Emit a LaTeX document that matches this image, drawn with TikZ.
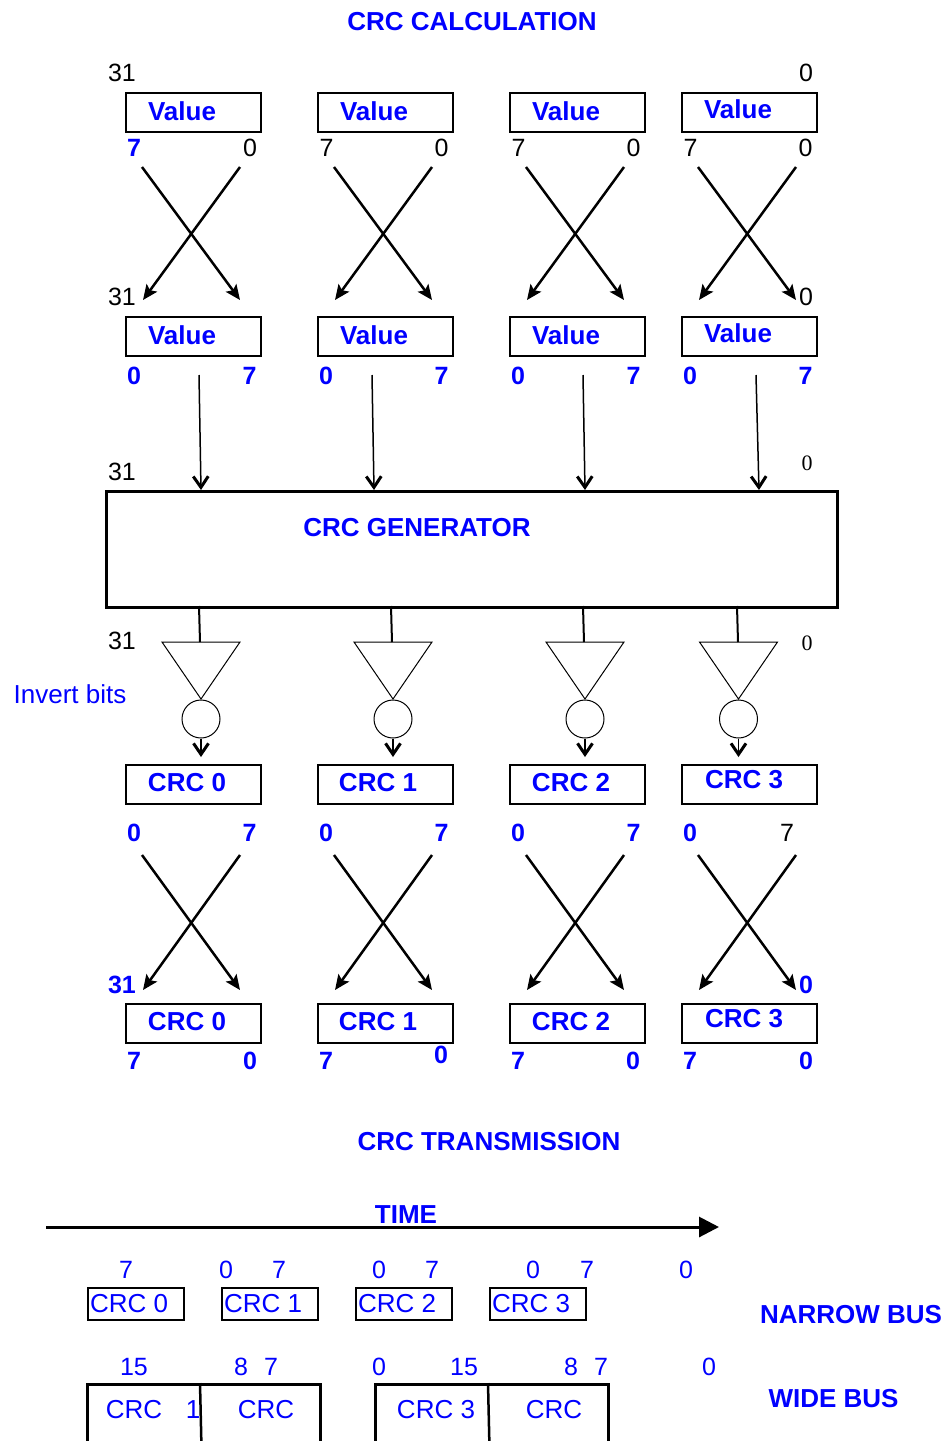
\documentclass[tikz,border=0pt]{standalone}
\usepackage{fontspec}
\setmainfont{Liberation Sans}
\newfontfamily\serifnum{Liberation Serif}
\usetikzlibrary{arrows.meta}
\begin{document}
\begin{tikzpicture}[x=1pt,y=-1pt,
  bx/.style={draw, line width=1.5pt, minimum width=135pt, minimum height=39pt, inner sep=0pt, anchor=north west},
  nbx/.style={draw, line width=1.5pt, minimum width=96pt, minimum height=32pt, inner sep=0pt, anchor=north west},
  wbx/.style={draw, line width=2.5pt, minimum width=233pt, minimum height=120pt, inner sep=0pt, anchor=north west},
  wb/.style={text=blue, font=\fontsize{26}{28}\selectfont\bfseries, inner sep=0pt},
  wr/.style={text=blue, font=\fontsize{26}{28}\selectfont, inner sep=0pt},
  nb/.style={text=blue, font=\fontsize{25}{28}\selectfont\bfseries, inner sep=0pt},
  nk/.style={text=black, font=\fontsize{25}{28}\selectfont, inner sep=0pt},
  nr/.style={text=blue, font=\fontsize{25}{28}\selectfont, inner sep=0pt},
  ns/.style={text=black, font=\fontsize{22}{24}\serifnum, inner sep=0pt},
  xarrow/.style={line width=2.5pt, -{Stealth[length=15pt,width=13pt,inset=3pt]}},
  varrow/.style={line width=1.5pt, -{Straight Barb[length=11pt,width=15pt,line width=3pt]}},
  inv/.style={line width=1pt},
  ring/.style={draw, circle, line width=1pt, minimum size=38pt, inner sep=0pt},
]
\useasboundingbox (0,0) rectangle (948,1441);
\clip (0,0) rectangle (948,1441);

% ---------- titles ----------
\node[wb] (t1) at (472,22) {CRC CALCULATION};
\node[wb] (t2) at (489,1142) {CRC TRANSMISSION};

% ---------- row 1 : Value boxes ----------
\foreach \i/\L/\ty in {1/125/111,2/317/111,3/509/111,4/681/109}{
  \node[bx] (va\i) at (\L,92) {};
  \node[wb] (vat\i) at (\L+57,\ty) {Value};
  \coordinate (xa\i) at (\L+17,167);
  \coordinate (xb\i) at (\L+115,167);
  \coordinate (xc\i) at (\L+18,300);
  \coordinate (xd\i) at (\L+115,300);
  \draw[xarrow] (xa\i) -- (xd\i);
  \draw[xarrow] (xb\i) -- (xc\i);
  % row 2 boxes
  \node[bx] (vb\i) at (\L,316) {};
  \node[wb] (vbt\i) at (\L+57,\ty+224) {Value};
  \node[nb] (lb0\i) at (\L+9,376) {0};
  \node[nb] (lb7\i) at (\L+124.5,376) {7};
}
\node[nk] (n31a) at (122,73) {31};
\node[nk] (n0a) at (806,73) {0};
\node[nb] (la71) at (134,148) {7};
\node[nk] (la01) at (250,148) {0};
\foreach \i/\L in {2/317,3/509,4/681}{
  \node[nk] (la7\i) at (\L+9.5,148) {7};
  \node[nk] (la0\i) at (\L+124.5,148) {0};
}
\node[nk] (n31b) at (122,297) {31};
\node[nk] (n0b) at (806,297) {0};

% ---------- generator ----------
\node[draw, line width=2.5pt, minimum width=731pt, minimum height=116pt, inner sep=0pt, anchor=north west] (gen) at (105,490) {};
\node[wb] (gent) at (417,528) {CRC GENERATOR};
\node[nk] (n31c) at (122,472) {31};
\node[ns] (n0c) at (807,463) {0};
\foreach \i/\xa/\xb in {1/199/201,2/372/374,3/583/585,4/756/759}{
  \coordinate (ia\i) at (\xa,375);
  \coordinate (ib\i) at (\xb,490);
  \draw[varrow] (ia\i) -- (ib\i);
}

% ---------- inverters ----------
\node[nk] (n31d) at (122,641) {31};
\node[ns] (n0d) at (807,643) {0};
\node[wr] (invt) at (70,694) {Invert bits};
\foreach \i/\xl/\t in {1/199/201,2/391/393,3/583/585,4/737/738.5}{
  \coordinate (ga\i) at (\xl,606);
  \coordinate (gb\i) at (\xl+1,642);
  \draw[line width=2pt] (ga\i) -- (gb\i);
  \coordinate (ta\i) at (\t-39,642);
  \coordinate (tb\i) at (\t+39,642);
  \coordinate (tc\i) at (\t,699);
  \draw[inv] (ta\i) -- (tb\i) -- (tc\i) -- cycle;
  \node[ring] (c\i) at (\t,719) {};
  \coordinate (cd\i) at (\t,757);
  \draw[varrow] (c\i.south) -- (cd\i);
}

% ---------- row 3 : CRC boxes ----------
\foreach \i/\L/\tx/\ty in {1/125/187/783,2/317/378/783,3/509/571/783,4/681/744/780}{
  \node[bx] (ca\i) at (\L,764) {};
  \pgfmathtruncatemacro{\k}{\i-1}
  \node[wb] (cat\i) at (\tx,\ty) {CRC \k};
  \node[nb] (lc0\i) at (\L+9,833) {0};
  \coordinate (ya\i) at (\L+17,855);
  \coordinate (yb\i) at (\L+115,855);
  \coordinate (yc\i) at (\L+18,990);
  \coordinate (yd\i) at (\L+115,990);
  \draw[xarrow] (ya\i) -- (yd\i);
  \draw[xarrow] (yb\i) -- (yc\i);
  % row 4
  \node[bx] (cb\i) at (\L,1003) {};
  \node[wb] (cbt\i) at (\tx,\ty+239) {CRC \k};
  \node[nb] (ld7\i) at (\L+9,1061) {7};
}
\foreach \i/\L in {1/125,2/317,3/509}{
  \node[nb] (lc7\i) at (\L+124.5,833) {7};
}
\node[nk] (lc74) at (787,833) {7};
\node[nb] (n31e) at (122,985) {31};
\node[nb] (n0e) at (806,985) {0};
\node[nb] (ld01) at (250,1061) {0};
\node[nb] (ld02) at (441,1055) {0};
\node[nb] (ld03) at (633,1061) {0};
\node[nb] (ld04) at (806,1061) {0};

% ---------- transmission ----------
\coordinate (ts) at (46,1227);
\coordinate (te) at (719,1227);
\draw[line width=3pt, -{Triangle[length=20pt,width=20pt]}] (ts) -- (te);
\node[wb, anchor=south] (timet) at (406,1224) {TIME};

% narrow bus
\foreach \i/\L in {1/87,2/221,3/355,4/489}{
  \node[nbx] (nbx\i) at (\L,1287) {};
  \pgfmathtruncatemacro{\k}{\i-1}
  \node[wr, anchor=west] (nbt\i) at (\L+3,1304) {CRC \k};
}
\foreach \n/\x/\v in {a/126/7,b/226/0,c/279/7,d/379/0,e/432/7,f/533/0,g/587/7,h/686/0}{
  \node[nr] (nn\n) at (\x,1270) {\v};
}
\node[wb] (narrowt) at (851,1315) {NARROW BUS};

% wide bus
\node[wbx] (wa) at (86,1383) {};
\coordinate (wad1) at (200,1383);
\coordinate (wad2) at (202,1470);
\draw[line width=2.5pt] (wad1) -- (wad2);
\node[wbx] (wbb) at (374,1383) {};
\coordinate (wbd1) at (488,1383);
\coordinate (wbd2) at (490,1470);
\draw[line width=2.5pt] (wbd1) -- (wbd2);
\node[wr] (wt1) at (134,1410) {CRC};
\node[wr] (wt2) at (193,1410) {1};
\node[wr] (wt3) at (266,1410) {CRC};
\node[wr] (wt4) at (436,1410) {CRC 3};
\node[wr] (wt5) at (554,1410) {CRC};
\foreach \n/\x/\v in {a/134/15,b/241/8,c/271/7,d/379/0,e/464/15,f/571/8,g/601/7,h/709/0}{
  \node[nr] (wn\n) at (\x,1367) {\v};
}
\node[wb] (widet) at (833.5,1399) {WIDE BUS};
\end{tikzpicture}
\end{document}
